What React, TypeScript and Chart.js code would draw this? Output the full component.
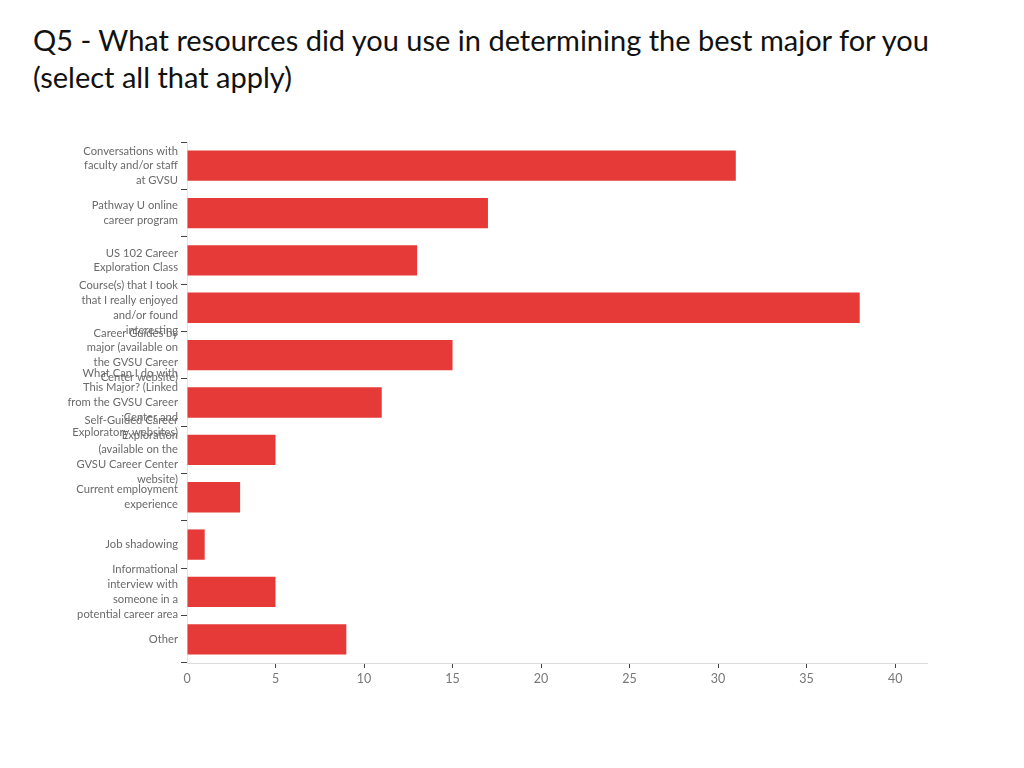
import React, { useEffect, useRef } from "react";
import { Chart, registerables } from "chart.js";

Chart.register(...registerables);

const categories: string[][] = [
  ["Conversations with", "faculty and/or staff", "at GVSU"],
  ["Pathway U online", "career program"],
  ["US 102 Career", "Exploration Class"],
  ["Course(s) that I took", "that I really enjoyed", "and/or found", "interesting"],
  ["Career Guides by", "major (available on", "the GVSU Career", "Center website)"],
  ["What Can I do with", "This Major? (Linked", "from the GVSU Career", "Center and", "Exploratory websites)"],
  ["Self-Guided Career", "Exploration", "(available on the", "GVSU Career Center", "website)"],
  ["Current employment", "experience"],
  ["Job shadowing"],
  ["Informational", "interview with", "someone in a", "potential career area"],
  ["Other"],
];

const counts: number[] = [31, 17, 13, 38, 15, 11, 5, 3, 1, 5, 9];

const xTicks: number[] = [0, 5, 10, 15, 20, 25, 30, 35, 40];

const titleLines: string[] = [
  "Q5 - What resources did you use in determining the best major for you",
  "(select all that apply)",
];

export default function App() {
  const canvasRef = useRef<HTMLCanvasElement | null>(null);

  useEffect(() => {
    const canvas = canvasRef.current;
    if (!canvas) return;
    const chart = new Chart(canvas, {
      type: "bar",
      data: {
        labels: categories,
        datasets: [
          {
            data: counts,
            backgroundColor: "#e53a37",
            borderWidth: 0,
            categoryPercentage: 1,
            barPercentage: 0.64,
          },
        ],
      },
      options: {
        indexAxis: "y",
        animation: false,
        responsive: false,
        maintainAspectRatio: false,
        layout: { padding: { top: 142, right: 97, bottom: 65, left: 0 } },
        plugins: {
          legend: { display: false },
          tooltip: { enabled: false },
          title: { display: false },
        },
        scales: {
          x: {
            min: 0,
            max: 41.8,
            afterBuildTicks: (scale: any) => {
              scale.ticks = xTicks.map((v) => ({ value: v }));
            },
            afterFit: (scale: any) => {
              scale.height = 40;
            },
            ticks: {
              color: "#777",
              font: { family: "Lato", size: 12.5 },
              padding: 3,
              maxRotation: 0,
            },
            grid: {
              drawOnChartArea: false,
              drawTicks: true,
              tickLength: 5,
              tickColor: (ctx: any) => (ctx.tick && ctx.tick.value === 0 ? "rgba(0,0,0,0)" : "#444"),
            },
            border: { display: true, color: "#dcdcdc", width: 1 },
          },
          y: {
            afterFit: (scale: any) => {
              scale.width = 187;
            },
            ticks: {
              color: "#6a6a6a",
              font: { family: "Lato", size: 11.2, lineHeight: 1.32 },
              padding: 3,
              autoSkip: false,
            },
            grid: {
              offset: true,
              drawOnChartArea: false,
              drawTicks: true,
              tickLength: 6,
              tickColor: "#444",
            },
            border: { display: true, color: "#e4e4e4", width: 1 },
          },
        },
      },
    });
    return () => chart.destroy();
  }, []);

  return (
    <div
      style={{
        position: "absolute",
        left: 0,
        top: 0,
        width: 1024,
        height: 768,
        background: "#fff",
        overflow: "hidden",
      }}
    >
      <div
        style={{
          position: "absolute",
          left: 33,
          top: 21,
          fontFamily: "Lato, 'Open Sans', sans-serif",
          fontSize: 29,
          lineHeight: "37px",
          color: "#111",
          whiteSpace: "nowrap",
        }}
      >
        {titleLines.map((t, i) => (
          <div key={i}>{t}</div>
        ))}
      </div>
      <canvas
        ref={canvasRef}
        width={1024}
        height={768}
        style={{ position: "absolute", left: 0, top: 0, width: 1024, height: 768 }}
      />
    </div>
  );
}
